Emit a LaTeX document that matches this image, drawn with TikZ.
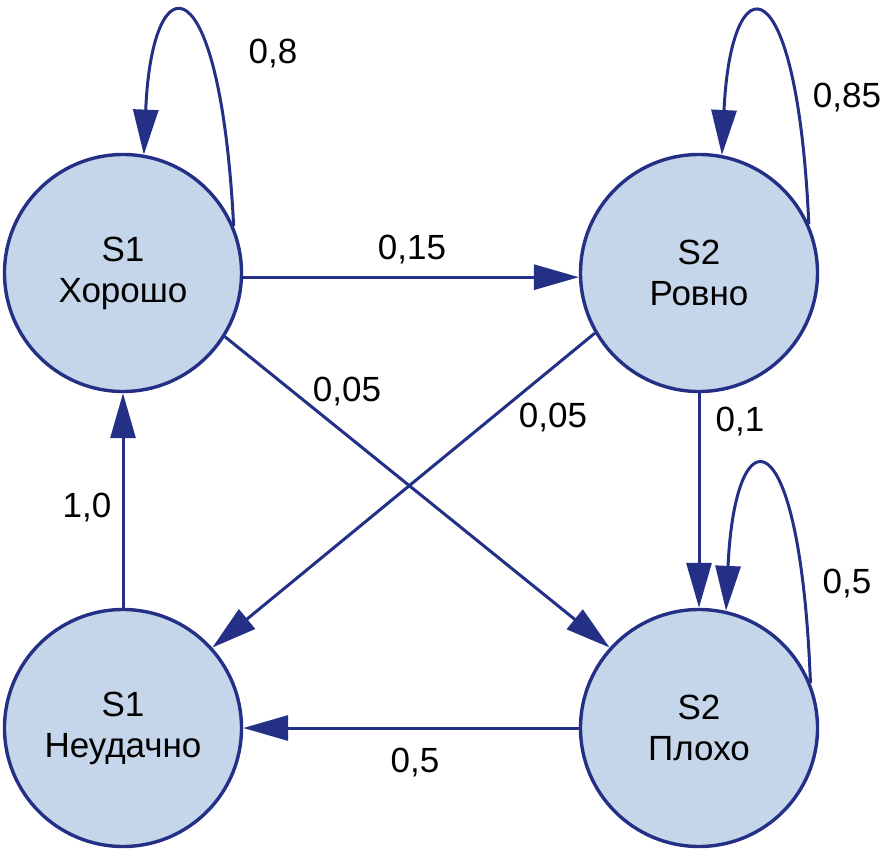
\documentclass[tikz,border=0pt]{standalone}
\usepackage{fontspec}
\setmainfont{Liberation Sans}
\usetikzlibrary{arrows.meta}
\definecolor{edgec}{RGB}{36,48,134}
\definecolor{fillc}{RGB}{197,214,234}
\begin{document}
\begin{tikzpicture}[x=1pt,y=-1pt,
  state/.style={circle,draw=edgec,fill=fillc,line width=3.4pt,minimum size=237pt,inner sep=0pt,align=center,font=\fontsize{35}{41}\selectfont},
  tr/.style={draw=edgec,line width=3pt,-{Triangle[length=45pt,width=25pt]}},
  lbl/.style={font=\fontsize{35}{41}\selectfont,inner sep=0pt}]
\useasboundingbox (0,0) rectangle (883,850);
\node[state] (A) at (123,273) {S1\\Хорошо};
\node[state] (B) at (699,273) {S2\\Ровно};
\node[state] (C) at (123,728) {S1\\Неудачно};
\node[state] (D) at (699,728) {S2\\Плохо};
% self loops
\draw[tr] (A.23) .. controls (220,-41) and (152,-41) .. (A.80);
\draw[tr] (B.24) .. controls (797,-40) and (731,-40) .. (B.79);
\draw[tr] (D.22) .. controls (800,411) and (735,411) .. (D.77);
% transitions
\draw[tr] (A.-2) -- (B.182);
\draw[tr] (A.-32) -- (D.138);
\draw[tr] (B.210) -- (C.42);
\draw[tr] (B) -- (D);
\draw[tr] (D) -- (C);
\draw[tr] (C) -- (A);
% labels
\node[lbl] (l1) at (273,54) {0,8};
\node[lbl] (l2) at (847,98) {0,85};
\node[lbl] (l3) at (412,250) {0,15};
\node[lbl] (l4) at (347,392) {0,05};
\node[lbl] (l5) at (553,418) {0,05};
\node[lbl] (l6) at (740,422) {0,1};
\node[lbl] (l7) at (87,508) {1,0};
\node[lbl] (l8) at (847,584) {0,5};
\node[lbl] (l9) at (415,763) {0,5};
\end{tikzpicture}
\end{document}
